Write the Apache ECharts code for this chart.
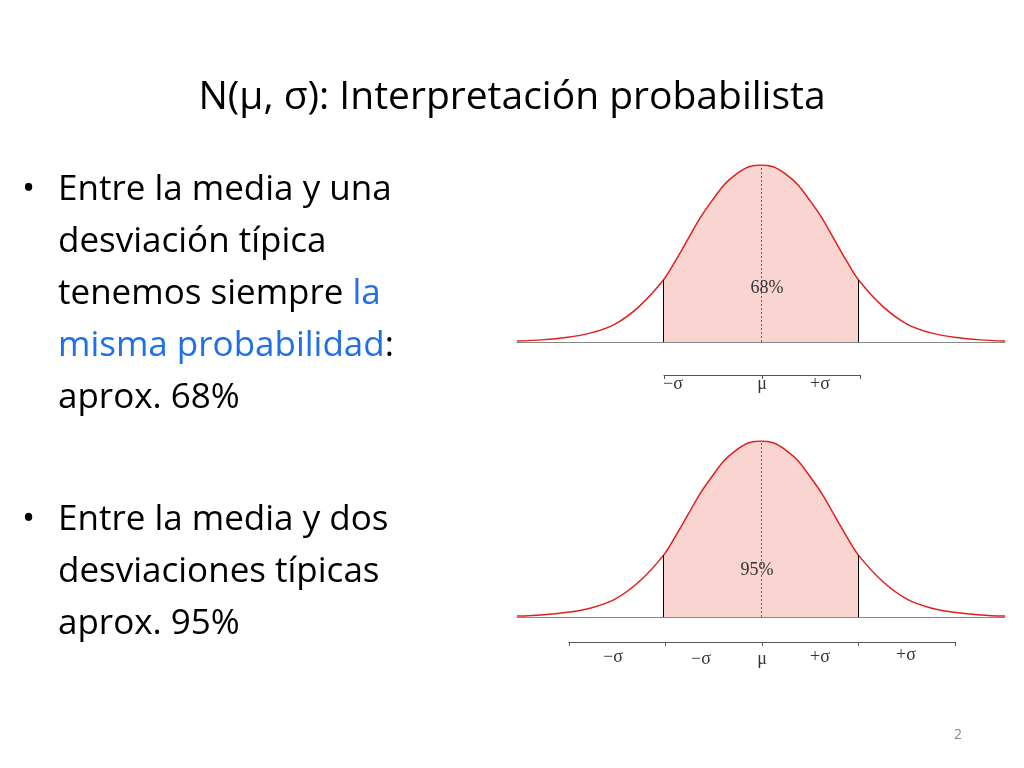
<!DOCTYPE html>
<html>
<head>
<meta charset="utf-8">
<script src="https://cdn.jsdelivr.net/npm/echarts@6/dist/echarts.min.js"></script>
<style>html,body{margin:0;background:#fff}#c{width:1024px;height:768px}</style>
</head>
<body>
<div id="c"></div>
<script>
// curve: x in sigma-mark units, height relative to peak
var xs = [-2.5, -2.25, -2, -1.75, -1.5, -1.25, -1, -0.875, -0.75, -0.625, -0.5, -0.375, -0.25, -0.125, 0, 0.125, 0.25, 0.375, 0.5, 0.625, 0.75, 0.875, 1, 1.25, 1.5, 1.75, 2, 2.25, 2.5];
var ys = [0.005, 0.012, 0.025, 0.05, 0.1, 0.2, 0.35, 0.46, 0.58, 0.7, 0.8, 0.89, 0.95, 0.99, 1, 0.99, 0.95, 0.89, 0.8, 0.7, 0.58, 0.46, 0.35, 0.2, 0.1, 0.05, 0.025, 0.012, 0.005];
var shadeFrom = -1, shadeTo = 1;
var pctLabels = ['68%', '95%'];

var curve = xs.map(function (x, i) { return [x, ys[i]]; });
var shade = curve.filter(function (p) { return p[0] >= shadeFrom && p[0] <= shadeTo; });
var edgeH = ys[xs.indexOf(shadeTo)];

var serif = 'Liberation Serif';
var sans = 'Open Sans';

function curveSeries(idx) {
  return [{
    type: 'line', xAxisIndex: idx, yAxisIndex: idx, data: shade, smooth: 0.3, symbol: 'none',
    lineStyle: { width: 0 }, areaStyle: { color: '#f9d4d0', opacity: 1 }, silent: true,
    markLine: {
      symbol: 'none', silent: true, label: { show: false },
      data: [
        [{ coord: [shadeFrom, 0], lineStyle: { color: '#000', width: 1, type: 'solid' } }, { coord: [shadeFrom, edgeH] }],
        [{ coord: [shadeTo, 0], lineStyle: { color: '#000', width: 1, type: 'solid' } }, { coord: [shadeTo, edgeH] }],
        [{ coord: [0, 0], lineStyle: { color: '#666', width: 1, type: [2, 2] } }, { coord: [0, 1] }]
      ]
    }
  }, {
    type: 'line', xAxisIndex: idx, yAxisIndex: idx, data: curve, smooth: 0.3, symbol: 'none',
    lineStyle: { color: '#e0201e', width: 1.5 }, silent: true
  }];
}

var grids = [
  { left: 517, width: 488, top: 165, height: 177 },
  { left: 517, width: 488, top: 441, height: 176 },
  { left: 664, width: 196, top: 374, height: 1 },
  { left: 569, width: 386, top: 641, height: 1 }
];
var xAxes = [0, 1].map(function (i) {
  return { gridIndex: i, type: 'value', min: -2.5, max: 2.5, interval: 0.5,
    axisLine: { lineStyle: { color: '#888' } }, axisTick: { show: false }, axisLabel: { show: false }, splitLine: { show: false } };
}).concat([
  { gridIndex: 2, type: 'value', min: -1, max: 1, interval: 1 },
  { gridIndex: 3, type: 'value', min: -2, max: 2, interval: 1 }
].map(function (a) {
  a.axisLine = { onZero: false, lineStyle: { color: '#555' } };
  a.axisTick = { show: true, length: 4, inside: false, lineStyle: { color: '#555' } };
  a.axisLabel = { show: false }; a.splitLine = { show: false };
  return a;
}));
var yAxes = [0, 1, 2, 3].map(function (i) {
  return { gridIndex: i, type: 'value', min: 0, max: 1, show: false };
});

function txt(x, y, t, style) {
  return { type: 'text', x: x, y: y, z: 100, style: Object.assign({ text: t, fill: '#000', textVerticalAlign: 'middle' }, style) };
}
var bigFont = '35px "' + sans + '"';
var big = { font: bigFont };
var lab = { font: '18px "' + serif + '"', fill: '#333', textAlign: 'center' };
var blue = '#1f6fe6';

var graphic = [
  txt(512, 98, 'N(μ, σ): Interpretación probabilista', { font: '39px "' + sans + '"', textAlign: 'center' }),
  txt(22, 190, '•', big), txt(58, 190, 'Entre la media y una', big),
  txt(58, 242, 'desviación típica', big),
  txt(58, 294, 'tenemos siempre {b|la}', { font: bigFont, rich: { b: { fill: blue, font: bigFont } } }),
  txt(58, 346, '{b|misma probabilidad}:', { font: bigFont, rich: { b: { fill: blue, font: bigFont } } }),
  txt(58, 398, 'aprox. 68%', big),
  txt(22, 520, '•', big), txt(58, 520, 'Entre la media y dos', big),
  txt(58, 572, 'desviaciones típicas', big),
  txt(58, 624, 'aprox. 95%', big),
  txt(767, 288, pctLabels[0], lab), txt(757, 570, pctLabels[1], lab),
  txt(673, 384, '−σ', lab), txt(762, 384, 'μ', lab), txt(820, 384, '+σ', lab),
  txt(613, 657, '−σ', lab), txt(701, 659, '−σ', lab), txt(762, 659, 'μ', lab), txt(820, 657, '+σ', lab), txt(906, 655, '+σ', lab),
  txt(958, 735, '2', { font: '14px "' + sans + '"', fill: '#888', textAlign: 'center' })
];

var chart = echarts.init(document.getElementById('c'));
chart.setOption({
  backgroundColor: '#ffffff',
  animation: false,
  grid: grids,
  xAxis: xAxes,
  yAxis: yAxes,
  series: curveSeries(0).concat(curveSeries(1)),
  graphic: graphic
});
</script>
</body>
</html>
